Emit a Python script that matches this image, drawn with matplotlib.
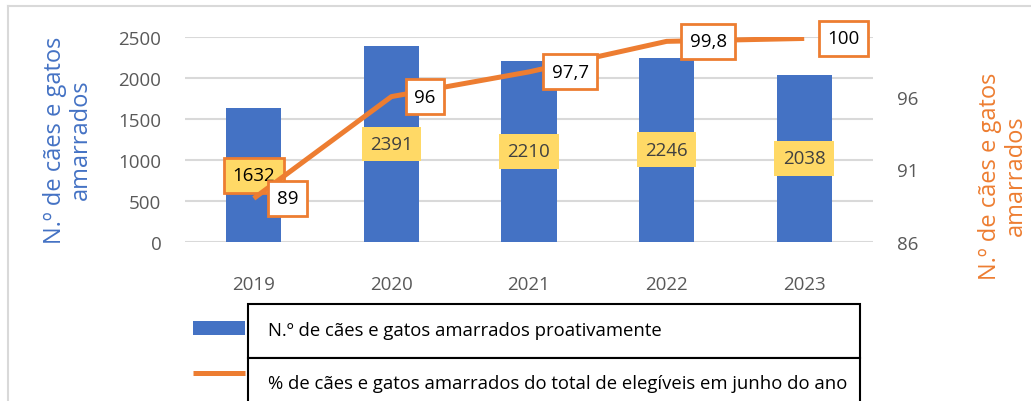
import matplotlib
matplotlib.use("Agg")
import matplotlib.pyplot as plt
from matplotlib.patches import Rectangle
from matplotlib.lines import Line2D

# ---- data ----
years = ["2019", "2020", "2021", "2022", "2023"]
counts = [1632, 2391, 2210, 2246, 2038]
percent = [89, 96, 97.7, 99.8, 100]
percent_labels = ["89", "96", "97,7", "99,8", "100"]
bar_name = "N.º de cães e gatos amarrados proativamente"
line_name = "% de cães e gatos amarrados do total de elegíveis em junho do ano"
axis_title = "N.º de cães e gatos\namarrados"
left_ticks = [0, 500, 1000, 1500, 2000, 2500]
right_ticks = [86, 91, 96]

BLUE = "#4472C4"
ORANGE = "#ED7D31"
YELLOW = "#FFD966"
GREY = "#595959"
GRID = "#D9D9D9"

plt.rcParams["font.family"] = ["Open Sans", "DejaVu Sans"]

W, H = 1031, 402
fig = plt.figure(figsize=(W / 100, H / 100), dpi=100)

def fx(px):
    return px / W

def fy(py):
    return 1 - py / H

ax = fig.add_axes([fx(185), fy(243), fx(873) - fx(185), fy(38) - fy(243)])
x = list(range(len(years)))
ax.bar(x, counts, width=0.4, color=BLUE, zorder=2)
ax.set_xlim(-0.5, len(years) - 0.5)
ax.set_ylim(0, 2500)
ax.set_yticks(left_ticks)
ax.set_xticks(x)
ax.set_xticklabels(years)
ax.grid(axis="y", color=GRID, linewidth=1.5, zorder=0)
ax.set_axisbelow(True)
for s in ax.spines.values():
    s.set_visible(False)
ax.tick_params(axis="both", length=0, labelsize=13.5, colors=GREY)
ax.tick_params(axis="y", pad=17)
ax.tick_params(axis="x", pad=24)

for i, v in enumerate(counts):
    first = i == 0
    ax.text(i, v / 2, str(v), ha="center", va="center", fontsize=13.5,
            color="black" if first else "#404040", zorder=3,
            bbox=dict(boxstyle="square,pad=0.45", facecolor=YELLOW,
                      edgecolor=ORANGE if first else "none", linewidth=2))

ax2 = ax.twinx()
ax2.plot(x, percent, color=ORANGE, linewidth=3.6, solid_capstyle="butt",
         solid_joinstyle="round", zorder=4)
ax2.set_ylim(86, 100.1)
ax2.set_yticks(right_ticks)
for s in ax2.spines.values():
    s.set_visible(False)
ax2.tick_params(axis="y", length=0, labelsize=13.5, colors=GREY, pad=17)
for i, (v, lab) in enumerate(zip(percent, percent_labels)):
    ax2.annotate(lab, (i, v), xytext=(16.5, 0), textcoords="offset points",
                 ha="left", va="center", fontsize=13.5, color="black", zorder=5,
                 bbox=dict(boxstyle="square,pad=0.45", facecolor="white",
                           edgecolor=ORANGE, linewidth=2))

# axis titles
fig.text(fx(68), fy(140), axis_title, rotation=90, ha="center", va="center",
         fontsize=17, color=BLUE, linespacing=1.15)
fig.text(fx(1003), fy(176), axis_title, rotation=90, ha="center", va="center",
         fontsize=17, color=ORANGE, linespacing=1.15)

# chart frame (light grey)
fig.add_artist(Line2D([fx(8), fx(1030)], [fy(7), fy(7)], color=GRID, lw=1.5))
fig.add_artist(Line2D([fx(8), fx(8)], [fy(7), fy(402)], color=GRID, lw=1.5))

# legend table
fig.add_artist(Rectangle((fx(248), fy(359)), fx(860) - fx(248), fy(305) - fy(359),
                         transform=fig.transFigure, facecolor="white",
                         edgecolor="black", linewidth=1.5))
fig.add_artist(Rectangle((fx(248), fy(420)), fx(860) - fx(248), fy(359) - fy(420),
                         transform=fig.transFigure, facecolor="white",
                         edgecolor="black", linewidth=1.5))
fig.add_artist(Rectangle((fx(193), fy(336)), fx(245) - fx(193), fy(322) - fy(336),
                         transform=fig.transFigure, facecolor=BLUE, edgecolor="none"))
fig.add_artist(Line2D([fx(193), fx(245)], [fy(373.5), fy(373.5)], color=ORANGE, lw=3.6,
                      solid_capstyle="butt"))
fig.text(fx(268), fy(331), bar_name, ha="left", va="center", fontsize=13.3, color="black")
fig.text(fx(268), fy(384), line_name, ha="left", va="center", fontsize=13.3, color="black")

fig.savefig("out.png", dpi=100)
